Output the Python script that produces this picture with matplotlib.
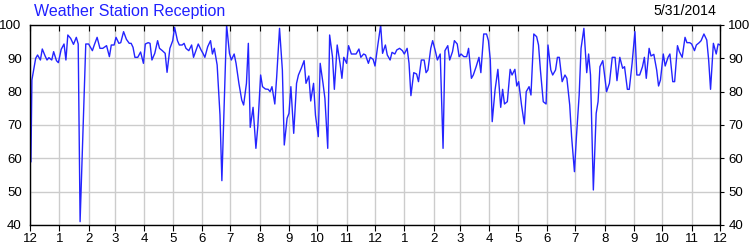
import matplotlib
matplotlib.use("Agg")
import matplotlib.pyplot as plt
import matplotlib.lines as mlines
import numpy as np
import pandas as pd


# 数据：自 2012-12-01 起的天数，以及接收率 (%)
start = "2012-12-01"
days = [1, 2, 6, 8, 11, 13, 16, 18, 20, 23, 25, 28, 30, 33, 36, 38, 40, 43, 46, 49,
        51, 53, 59, 62, 66, 68, 71, 74, 77, 81, 84, 86, 89, 91, 94, 96, 99, 102, 105, 107,
        109, 111, 114, 117, 120, 122, 125,
        127, 129, 132, 135, 137, 140, 143, 145, 148, 151, 153, 156, 158, 161, 163, 165, 168, 171, 173,
        176, 178, 181, 183, 185, 188, 191, 193, 195, 198, 201, 203, 208, 211, 213, 216, 218, 221, 224,
        226, 229, 231, 233, 236, 239, 241, 244, 246,
        249, 252, 254, 256, 259, 261, 264, 267, 269, 272, 274, 276, 279, 282, 284, 287, 290, 292, 295,
        297, 300, 302, 305, 307, 310, 312, 315, 317, 320, 322, 325, 328, 330, 332, 335, 337, 340, 343,
        345, 348, 350, 353, 355, 358, 360, 363, 365, 368,
        371, 373, 376, 378, 381, 383, 386, 388, 391, 394, 396, 399, 401, 403, 406, 409, 411, 414, 417,
        419, 421, 424, 426, 429, 431, 434, 437, 439, 442, 444, 447, 449, 452, 454, 456, 459, 462, 464,
        467, 469, 472, 475, 477, 480, 483, 485, 487,
        489, 492, 495, 498, 500, 502, 505, 508, 510, 513, 515, 517, 520, 523, 525, 528, 530, 533, 536,
        538, 540, 543, 546, 548, 551, 553, 556, 558, 560, 563, 566, 568, 571, 573, 576, 578, 581, 583,
        586, 589, 591, 593, 596, 599, 601, 603, 606,
        610, 613, 616, 619, 621, 624, 627, 629, 632, 634, 637, 640, 642, 645, 648, 650, 652, 655, 657,
        660, 663, 665, 667, 670, 672, 675, 677, 680, 682, 685, 687, 690, 693, 695, 698, 700, 703, 705,
        708, 710, 713, 716, 718, 720, 723, 726, 728, 730]
reception = [59, 83.5, 90, 91, 89.5, 92.8, 90.7, 89.5, 90.2, 89.5, 92, 89.3, 88.7, 92.7, 94.3, 89.5, 97, 96, 94.2, 96.3,
             94.3, 41, 94.3, 94.3, 92.3, 94, 96.3, 93, 93, 93.8, 90.5, 94, 94, 96.3, 94.5, 94.7, 98, 95.7, 94.5, 94.5,
             93.3, 90.3, 90.3, 91.9, 88.5, 94.3, 94.7,
             94.5, 89.5, 91.5, 95.3, 93, 92.3, 91.5, 85.8, 93, 95.3, 99.3, 95.3, 94, 94, 94.5, 93, 92.3, 94, 90.3,
             92.7, 94.3, 92.5, 91.5, 90.3, 93.5, 95.3, 91.3, 93, 88, 73, 53.3, 100, 91.5, 89.5, 91.3, 88.5, 82.5, 77.5,
             76, 82.5, 94.5, 69.3, 75.3, 63, 69.5, 85, 81.5,
             80.8, 80.7, 80, 81.5, 76.3, 84.5, 99, 86.5, 64, 72, 73.5, 81.5, 67.5, 82.5, 85, 87, 89.3, 82.5, 84.7,
             77.2, 82.5, 73, 66.5, 88.5, 82.5, 78, 63, 97, 90.5, 80.7, 94, 88.5, 84, 90.3, 88.5, 93.8, 91.3, 91.3,
             91.3, 92.8, 90.3, 91.3, 91, 88.5, 90.3, 89.7, 87.7, 94,
             100, 91.5, 94, 91, 89.5, 91.8, 91.3, 92.5, 93, 92.3, 91.3, 93, 88.5, 78.8, 85.7, 85.3, 83, 89.5, 89.5,
             85.7, 86.5, 93, 95.3, 92, 89.5, 91.3, 63, 92.3, 93.8, 89.5, 92, 95.3, 94.3, 90.5, 91.3, 90.5, 90.5, 93,
             84, 85, 87.5, 90.3, 85.7, 97.3, 97.3, 95.3, 89.5,
             71, 80.5, 86.7, 75.3, 80.7, 76.3, 77, 86.7, 85, 86.7, 81.7, 83, 76, 70.3, 80, 81.5, 79, 97.3, 96.5,
             94, 86.5, 77, 76.3, 94, 86.5, 85, 86.5, 90.3, 90.3, 83, 85, 84, 76, 66.5, 56, 66, 79, 93,
             99, 85.7, 91.3, 85, 50.5, 73.5, 77, 87.5, 89.3,
             80, 82.5, 90.3, 90.3, 83.3, 90.3, 87, 87.5, 80.7, 80.7, 88.5, 98, 85, 85, 87.5, 90.3, 84, 93, 90.7,
             91.2, 86.5, 81.7, 83.5, 91.3, 87.7, 90.3, 91.3, 83, 83, 93.8, 92, 90.3, 96.3, 94.7, 94.7, 94.3, 92.3, 94,
             94.7, 95.3, 97.3, 95.5, 89.5, 80.7, 94.5, 91.3, 94.3, 94]
y_ticks = [40, 50, 60, 70, 80, 90, 100]
title = "Weather Station Reception"
date_text = "5/31/2014"

plt.rcParams["font.family"] = ["Liberation Sans", "DejaVu Sans"]

t0 = pd.Timestamp(start)
x = np.array([t0 + pd.Timedelta(days=d) for d in days])
months = pd.date_range(start, "2014-12-01", freq="MS")

fig = plt.figure(figsize=(7.5, 2.5), dpi=100)
ax = fig.add_axes([0.04, 0.1, 0.92, 0.8])
ax.plot(x, reception, color="#2424ff", linewidth=1.0)

ax.set_xlim(months[0], months[-1])
ax.set_ylim(40, 100)
ax.set_xticks(months)
ax.set_xticklabels([str(m.month) for m in months], fontsize=9.5)
ax.set_yticks(y_ticks)
ax.set_yticklabels([str(v) for v in y_ticks], fontsize=9.5)
ax.grid(True, color="#cccccc", linewidth=1.0)
ax.set_axisbelow(True)
ax.tick_params(axis="x", direction="out", length=4, pad=2, top=True)
ax.tick_params(axis="y", direction="out", length=3, pad=3, right=True, labelright=True)
# 顶部刻度朝内，左侧不画刻度线
for t in ax.xaxis.get_major_ticks():
    t.tick2line.set_marker(mlines.TICKDOWN)
for t in ax.yaxis.get_major_ticks():
    t.tick1line.set_visible(False)
for s in ax.spines.values():
    s.set_color("black")
    s.set_linewidth(1.0)

fig.text(0.045, 0.955, title, color="#2020ff", fontsize=11.5, ha="left", va="center")
fig.text(0.955, 0.955, date_text, color="black", fontsize=10.2, ha="right", va="center")

fig.savefig("out.png", dpi=100)
